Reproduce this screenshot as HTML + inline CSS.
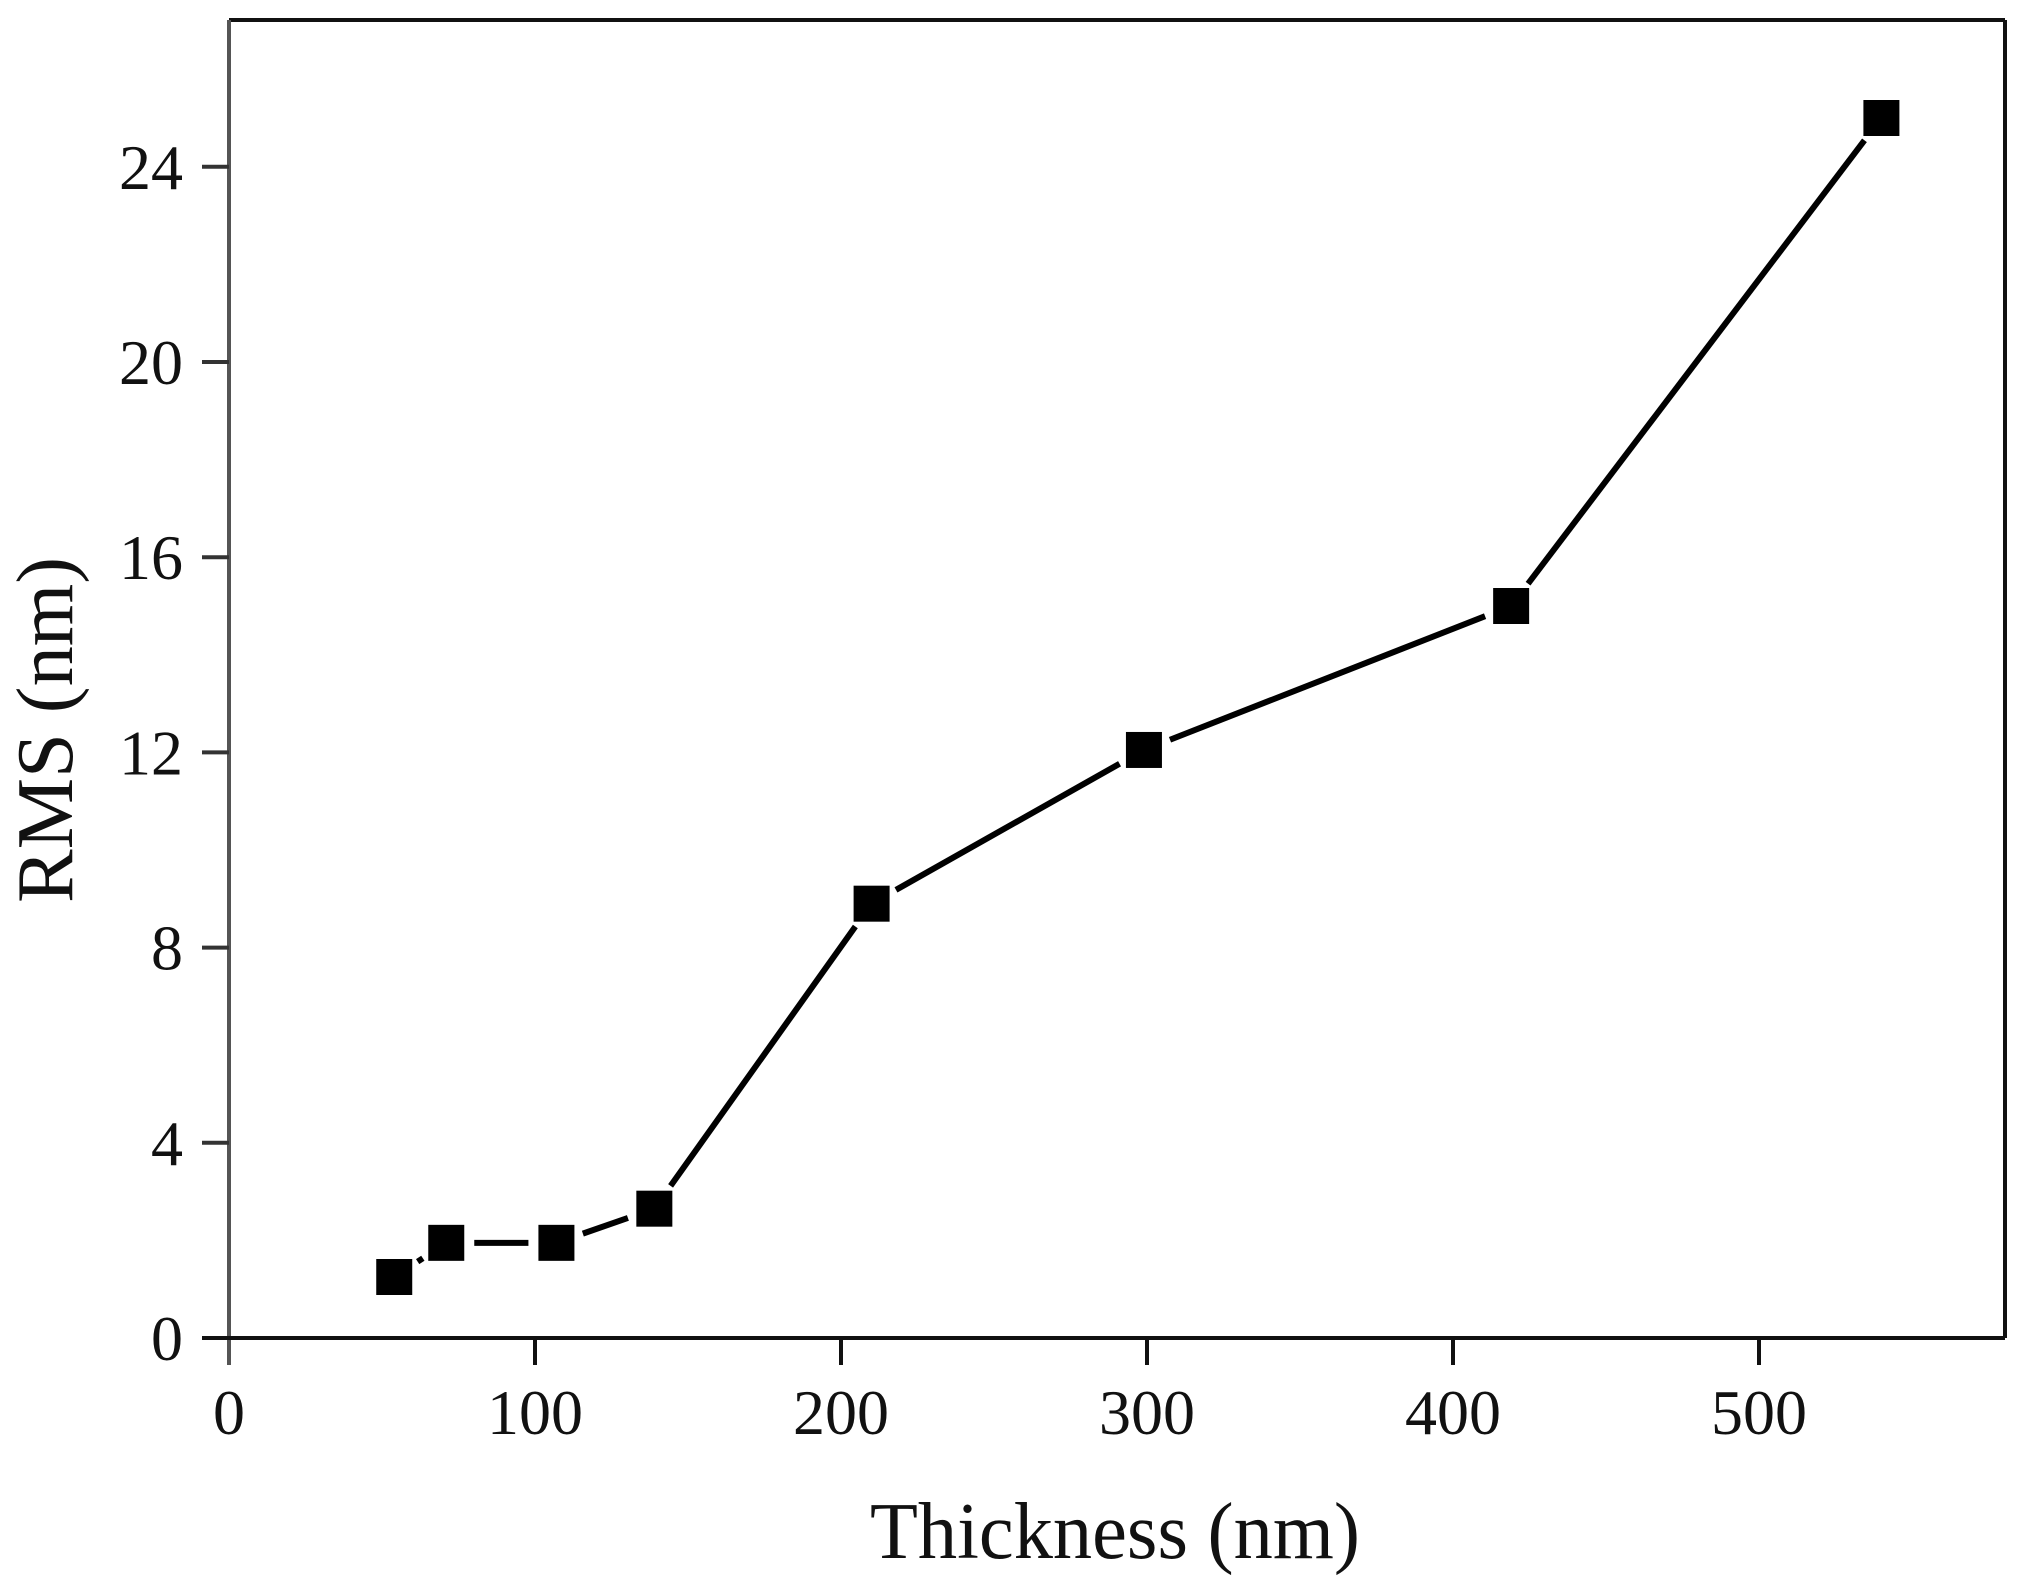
<!DOCTYPE html>
<html><head><meta charset="utf-8"><style>
html,body{margin:0;padding:0;background:#fff;}
svg{display:block;}
text{font-family:"Liberation Serif",serif;fill:#111;}
</style></head><body>
<svg id="chart" width="2019" height="1591" viewBox="0 0 2019 1591" xmlns="http://www.w3.org/2000/svg">
<g id="axes"></g>
<g id="series"></g>
<text x="1115" y="1558" font-size="80" text-anchor="middle" textLength="490" lengthAdjust="spacingAndGlyphs">Thickness (nm)</text>
<text transform="translate(72,730) rotate(-90)" font-size="80" text-anchor="middle" textLength="346" lengthAdjust="spacingAndGlyphs">RMS (nm)</text>
</svg>
<script>
const thickness = [54, 71, 107, 139, 210, 299, 419, 540];
const rms = [1.25, 1.95, 1.95, 2.65, 8.9, 12.05, 15.0, 25.0];
const xTicks = [0, 100, 200, 300, 400, 500];
const yTicks = [0, 4, 8, 12, 16, 20, 24];

const L = 229, R = 2005, T = 20, B = 1338;
const xMax = (R - L) / 3.06;
const yMax = (B - T) / 48.8;
function sx(v){ return L + v / xMax * (R - L); }
function sy(v){ return B - v / yMax * (B - T); }
const NS = 'http://www.w3.org/2000/svg';
function mk(tag, attrs, parent){
  const e = document.createElementNS(NS, tag);
  for (const k in attrs) e.setAttribute(k, attrs[k]);
  parent.appendChild(e);
  return e;
}
const axes = document.getElementById('axes');
const series = document.getElementById('series');

let e;
e = mk('line', {x1:L, y1:T, x2:R, y2:T, stroke:'#111', 'stroke-width':4}, axes);


e = mk('line', {x1:R, y1:T, x2:R, y2:B, stroke:'#111', 'stroke-width':4}, axes);


e = mk('line', {x1:L, y1:T, x2:L, y2:B + 27, stroke:'#555', 'stroke-width':4}, axes);


e = mk('line', {x1:L - 27, y1:B, x2:R, y2:B, stroke:'#111', 'stroke-width':4}, axes);



xTicks.forEach(function(v){
  const x = sx(v);
  if (v !== 0) {
    const t = mk('line', {x1:x, y1:B, x2:x, y2:B + 27, stroke:'#111', 'stroke-width':4}, axes);
    
    
  }
  const lb = mk('text', {x:x, y:B + 96, 'font-size':64, 'text-anchor':'middle'}, axes);
  lb.textContent = v;
  
  
});
yTicks.forEach(function(v){
  const y = sy(v);
  if (v !== 0) {
    const t = mk('line', {x1:L - 27, y1:y, x2:L, y2:y, stroke:'#333', 'stroke-width':4}, axes);
    
    
  }
  const lb = mk('text', {x:183, y:y + 22, 'font-size':64, 'text-anchor':'end'}, axes);
  lb.textContent = v;
  
  
});

const half = 18, gap = 28;
for (let i = 0; i < thickness.length - 1; i++) {
  const x1 = sx(thickness[i]), y1 = sy(rms[i]);
  const x2 = sx(thickness[i+1]), y2 = sy(rms[i+1]);
  const dx = x2 - x1, dy = y2 - y1, d = Math.hypot(dx, dy);
  if (d <= 2 * gap) continue;
  const ux = dx / d, uy = dy / d;
  const seg = mk('line', {x1:x1 + ux*gap, y1:y1 + uy*gap, x2:x2 - ux*gap, y2:y2 - uy*gap, stroke:'#000', 'stroke-width':6}, series);
  
  
}
thickness.forEach(function(v, i){
  const m = mk('rect', {x:sx(v) - half, y:sy(rms[i]) - half, width:half*2, height:half*2, fill:'#000'}, series);
  
  
});
</script>
</body></html>
